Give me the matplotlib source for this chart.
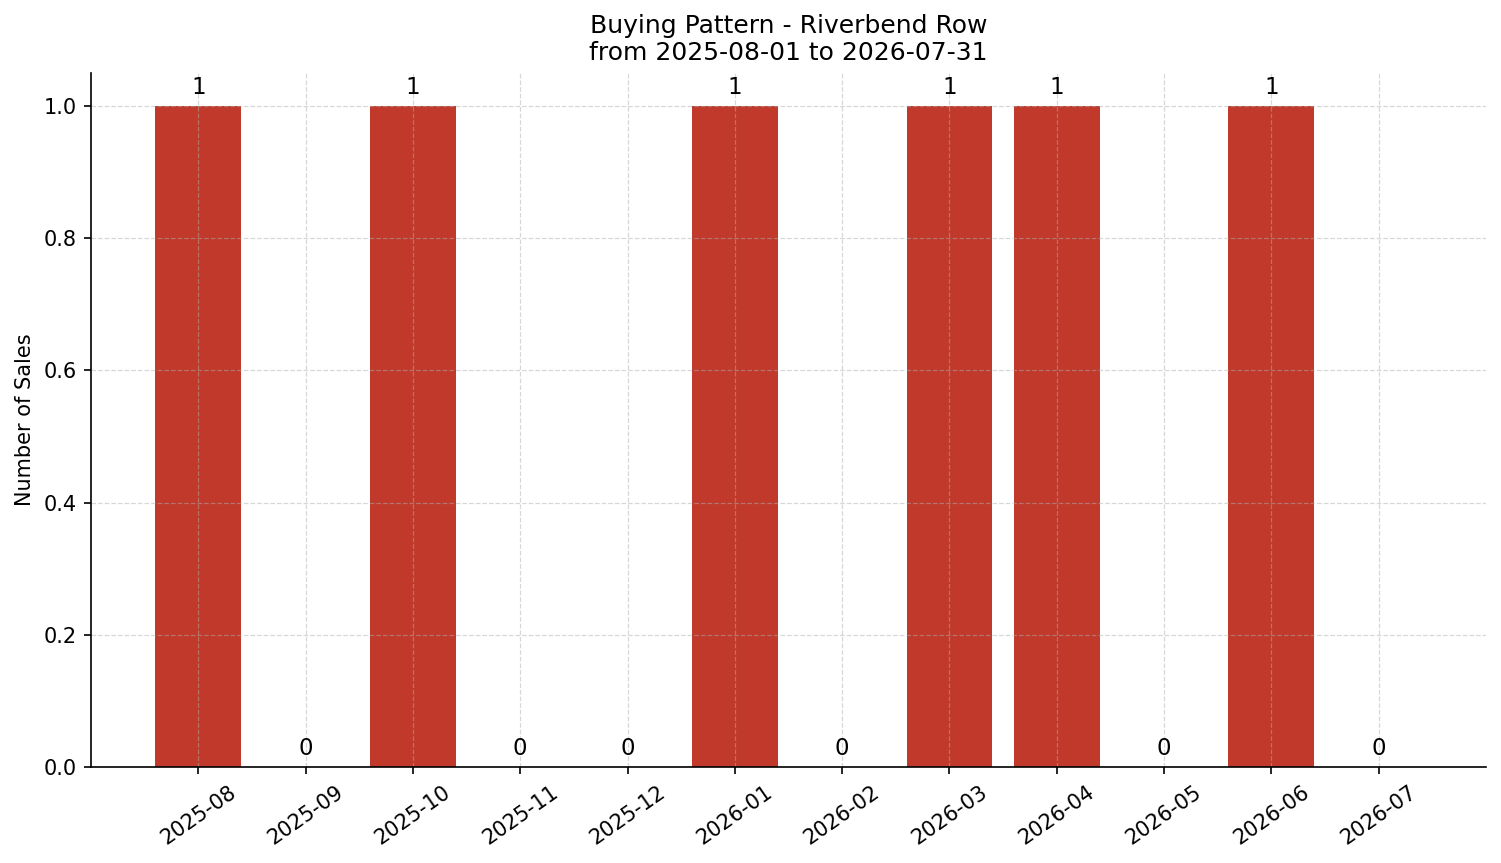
import matplotlib
matplotlib.use("Agg")
import matplotlib.pyplot as plt

months = ["2025-08", "2025-09", "2025-10", "2025-11", "2025-12", "2026-01",
          "2026-02", "2026-03", "2026-04", "2026-05", "2026-06", "2026-07"]
sales = [1, 0, 1, 0, 0, 1, 0, 1, 1, 0, 1, 0]

fig = plt.figure(figsize=(1501 / 150, 863 / 150), dpi=150)
ax = fig.add_axes([91 / 1501, 1 - 767 / 863, (1486 - 91) / 1501, (767 - 73) / 863])

x = list(range(len(months)))
ax.bar(x, sales, width=0.8, color="#c0392b")
for xi, v in zip(x, sales):
    ax.text(xi, v + 0.01, str(v), ha="center", va="bottom", fontsize=11)

ax.set_xticks(x)
ax.set_xticklabels(months, rotation=35, ha="center")
ax.set_xlim(-1, 12)
ax.set_ylim(0, 1.05)
ax.set_ylabel("Number of Sales")
ax.set_title("Buying Pattern - Riverbend Row\nfrom 2025-08-01 to 2026-07-31", fontsize=12)
ax.grid(True, linestyle="--", alpha=0.5, linewidth=0.6)
ax.spines["top"].set_visible(False)
ax.spines["right"].set_visible(False)

fig.savefig("out.png", dpi=150)
